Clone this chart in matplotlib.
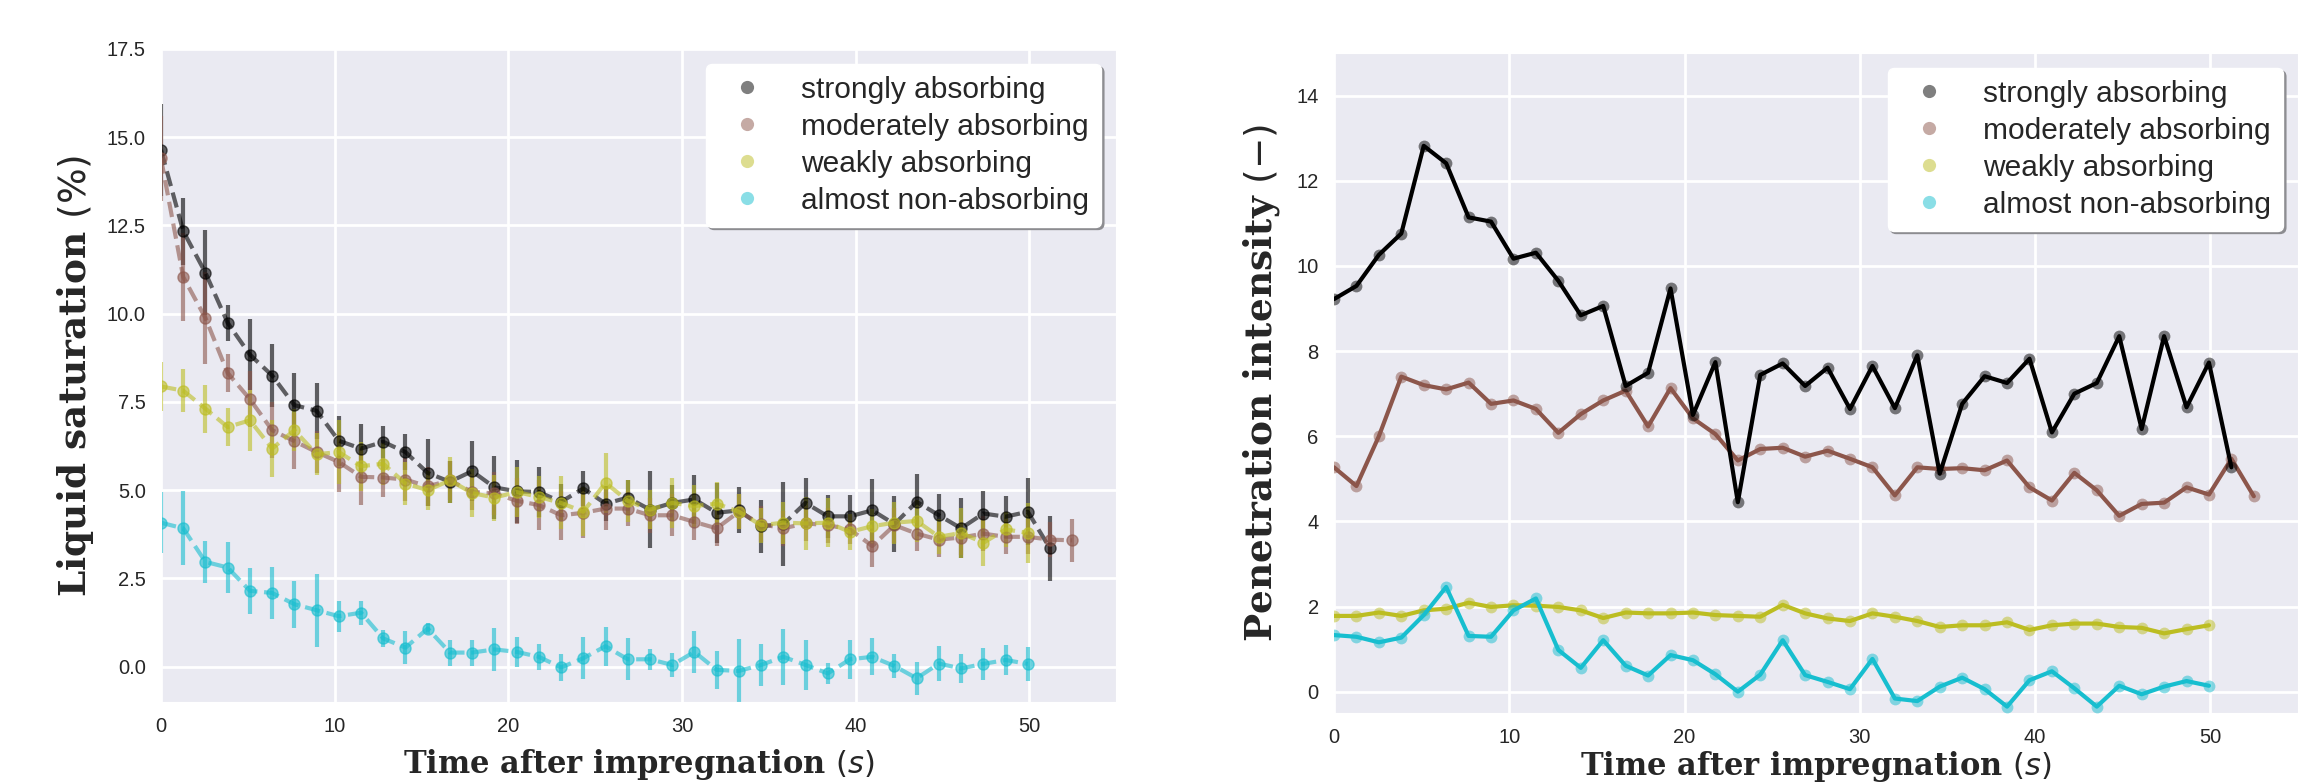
import numpy as np
import matplotlib
matplotlib.use("Agg")
import matplotlib.pyplot as plt
import seaborn as sns
from matplotlib.lines import Line2D
from matplotlib.colors import to_rgba

sns.set_style("darkgrid")
plt.rcParams['font.family'] = ['Liberation Sans', 'DejaVu Sans']

# ---------------- data ----------------
time = [0.0, 1.28, 2.56, 3.84, 5.12, 6.4, 7.68, 8.96, 10.24, 11.52, 12.8, 14.08,
        15.36, 16.64, 17.92, 19.2, 20.48, 21.76, 23.04, 24.32, 25.6, 26.88, 28.16,
        29.44, 30.72, 32.0, 33.28, 34.56, 35.84, 37.12, 38.4, 39.68, 40.96, 42.24,
        43.52, 44.8, 46.08, 47.36, 48.64, 49.92, 51.2, 52.48]

labels = ["strongly absorbing", "moderately absorbing", "weakly absorbing",
          "almost non-absorbing"]

# Liquid saturation (%) - mean and error
sat_strong = [14.64, 12.34, 11.16, 9.74, 8.84, 8.25, 7.41, 7.25, 6.40, 6.18, 6.37, 6.08,
              5.49, 5.24, 5.54, 5.08, 4.97, 4.95, 4.67, 5.05, 4.62, 4.79, 4.45, 4.64,
              4.74, 4.36, 4.43, 3.98, 4.04, 4.64, 4.26, 4.26, 4.43, 4.04, 4.67, 4.29,
              3.92, 4.34, 4.25, 4.39, 3.35]
sat_strong_err = [1.3, 0.95, 1.2, 0.5, 1.0, 0.9, 0.9, 0.8, 0.7, 0.7, 0.45, 0.5, 0.95,
                  0.6, 0.85, 0.9, 0.9, 0.7, 0.5, 0.5, 0.5, 0.5, 1.1, 0.5, 0.7, 0.85,
                  0.65, 0.75, 1.2, 0.7, 0.6, 0.6, 0.9, 0.8, 0.8, 0.6, 0.85, 0.65, 0.6,
                  0.95, 0.93]
sat_moder = [14.4, 11.04, 9.88, 8.32, 7.58, 6.70, 6.39, 6.08, 5.80, 5.38, 5.36, 5.30,
             5.11, 5.28, 4.95, 4.91, 4.70, 4.58, 4.29, 4.36, 4.48, 4.48, 4.29, 4.29,
             4.10, 3.92, 4.39, 4.04, 3.92, 4.06, 4.01, 3.89, 3.42, 4.01, 3.77, 3.60,
             3.66, 3.77, 3.68, 3.68, 3.60, 3.58]
sat_moder_err = [1.2, 1.25, 1.3, 0.55, 0.8, 0.8, 0.8, 0.6, 0.85, 0.8, 0.55, 0.6, 0.55,
                 0.55, 0.5, 0.6, 0.65, 0.7, 0.7, 0.7, 0.6, 0.5, 0.5, 0.6, 0.5, 0.5,
                 0.5, 0.5, 0.5, 0.5, 0.5, 0.4, 0.6, 0.5, 0.5, 0.5, 0.5, 0.5, 0.5, 0.5,
                 0.5, 0.6]
sat_weak = [7.94, 7.82, 7.31, 6.79, 6.98, 6.18, 6.70, 6.02, 6.08, 5.68, 5.75, 5.19,
            5.00, 5.28, 4.92, 4.79, 4.95, 4.81, 4.64, 4.39, 5.21, 4.70, 4.45, 4.64,
            4.55, 4.62, 4.39, 4.01, 4.08, 4.06, 4.08, 3.82, 3.98, 4.08, 4.13, 3.68,
            3.79, 3.51, 3.89, 3.79]
sat_weak_err = [0.7, 0.6, 0.68, 0.55, 0.87, 0.8, 0.6, 0.6, 0.9, 0.7, 0.6, 0.6, 0.55,
                0.65, 0.68, 0.65, 0.7, 0.6, 0.75, 0.7, 0.85, 0.6, 0.55, 0.7, 0.6, 0.6,
                0.5, 0.5, 0.6, 0.75, 0.7, 0.5, 0.5, 0.6, 0.6, 0.5, 0.7, 0.65, 0.5, 0.85]
sat_almost = [4.08, 3.92, 2.97, 2.81, 2.15, 2.09, 1.77, 1.60, 1.43, 1.53, 0.80, 0.54,
              1.08, 0.40, 0.40, 0.49, 0.42, 0.28, -0.02, 0.24, 0.58, 0.21, 0.21, 0.05,
              0.42, -0.09, -0.12, 0.05, 0.28, 0.05, -0.19, 0.21, 0.28, 0.02, -0.33,
              0.09, -0.05, 0.08, 0.19, 0.08]
sat_almost_err = [0.87, 1.05, 0.6, 0.73, 0.66, 0.73, 0.66, 1.03, 0.44, 0.34, 0.25,
                  0.47, 0.15, 0.37, 0.37, 0.6, 0.43, 0.37, 0.39, 0.6, 0.55, 0.6, 0.3,
                  0.33, 0.6, 0.53, 0.9, 0.6, 0.8, 0.7, 0.3, 0.55, 0.52, 0.33, 0.47,
                  0.5, 0.42, 0.45, 0.42, 0.48]

# Penetration intensity (-)
pen_strong = [9.22, 9.53, 10.26, 10.76, 12.82, 12.41, 11.14, 11.04, 10.17, 10.31, 9.65,
              8.84, 9.06, 7.18, 7.49, 9.47, 6.5, 7.74, 4.45, 7.44, 7.71, 7.18, 7.61,
              6.64, 7.65, 6.66, 7.90, 5.12, 6.76, 7.41, 7.25, 7.82, 6.09, 7.0, 7.25,
              8.35, 6.17, 8.35, 6.68, 7.73, 5.27]
pen_moder = [5.27, 4.83, 6.0, 7.40, 7.20, 7.10, 7.26, 6.76, 6.84, 6.64, 6.08, 6.52,
             6.84, 7.07, 6.23, 7.13, 6.42, 6.05, 5.43, 5.70, 5.73, 5.52, 5.66, 5.47,
             5.27, 4.61, 5.27, 5.23, 5.25, 5.20, 5.43, 4.80, 4.49, 5.14, 4.73, 4.13,
             4.41, 4.44, 4.80, 4.63, 5.47, 4.59]
pen_weak = [1.78, 1.78, 1.86, 1.78, 1.91, 1.95, 2.09, 1.99, 2.03, 2.02, 1.99, 1.91,
            1.73, 1.86, 1.84, 1.84, 1.86, 1.80, 1.78, 1.76, 2.04, 1.84, 1.72, 1.66,
            1.84, 1.76, 1.66, 1.52, 1.56, 1.56, 1.63, 1.45, 1.56, 1.60, 1.60, 1.52,
            1.50, 1.37, 1.47, 1.56]
pen_almost = [1.33, 1.29, 1.16, 1.27, 1.80, 2.46, 1.31, 1.29, 1.91, 2.19, 0.98, 0.56,
              1.21, 0.61, 0.38, 0.86, 0.74, 0.41, 0.0, 0.40, 1.21, 0.39, 0.23, 0.06,
              0.77, -0.16, -0.22, 0.12, 0.33, 0.06, -0.35, 0.27, 0.48, 0.08, -0.35,
              0.14, -0.06, 0.12, 0.25, 0.14]

colors = ["black", "tab:brown", "tab:olive", "tab:cyan"]

# ---------------- figure ----------------
fig = plt.figure(figsize=(23.02, 7.83), dpi=100)
W, H = 2302, 783
ax1 = fig.add_axes([161 / W, 1 - 702 / H, (1116 - 161) / W, (702 - 49) / H])
ax2 = fig.add_axes([1334 / W, 1 - 713 / H, (2298 - 1334) / W, (713 - 53) / H])

xlabel_font = dict(family='DejaVu Serif', weight='bold', size=22)
ylabel_font = dict(family='DejaVu Serif', weight='bold', size=27)
tick_size = 14.5
legend_size = 21.5

# Left: liquid saturation with error bars
sat_series = [(sat_strong, sat_strong_err), (sat_moder, sat_moder_err),
              (sat_weak, sat_weak_err), (sat_almost, sat_almost_err)]
for (vals, errs), c in zip(sat_series, colors):
    t = time[:len(vals)]
    ax1.errorbar(t, vals, yerr=errs, fmt='o--', color=c, alpha=0.6, lw=3,
                 elinewidth=3, markersize=8, capsize=0)

ax1.set_xlim(0, 55)
ax1.set_ylim(-1.0, 17.5)
ax1.set_xticks([0, 10, 20, 30, 40, 50])
ax1.set_yticks(np.arange(0, 17.6, 2.5))
ax1.yaxis.set_major_formatter(matplotlib.ticker.FormatStrFormatter('%.1f'))
ax1.set_xlabel(r"Time after impregnation $(s)$", fontdict=xlabel_font, labelpad=8)
ax1.set_ylabel(r"Liquid saturation $(\%)$", fontdict=ylabel_font, labelpad=8)

# Right: penetration intensity
pen_series = [pen_strong, pen_moder, pen_weak, pen_almost]
zorders = [4, 3, 3, 4]
for vals, c, z in zip(pen_series, colors, zorders):
    t = time[:len(vals)]
    ax2.plot(t, vals, '-', color=c, lw=3, zorder=z)
    ax2.plot(t, vals, 'o', color=c, alpha=0.5, markersize=8.5, zorder=z, mec='none')

ax2.set_xlim(0, 55)
ax2.set_ylim(-0.5, 15)
ax2.set_xticks([0, 10, 20, 30, 40, 50])
ax2.set_yticks([0, 2, 4, 6, 8, 10, 12, 14])
ax2.set_xlabel(r"Time after impregnation $(s)$", fontdict=xlabel_font, labelpad=1.5)
ax2.set_ylabel(r"Penetration intensity $(-)$", fontdict=ylabel_font, labelpad=10)

for ax in (ax1, ax2):
    ax.tick_params(axis='both', labelsize=tick_size, length=0, pad=11,
                   labelcolor='#262626')
    ax.grid(True, color='white', lw=2)
    handles = [Line2D([], [], ls='none', marker='o', markersize=9.5,
                      markerfacecolor=to_rgba(c, 0.5), markeredgecolor='none')
               for c in colors]
    leg = ax.legend(handles, labels, loc='upper right', fontsize=legend_size,
                    frameon=True, shadow={'color': '#8c8c90', 'alpha': 1.0},
                    facecolor='white', edgecolor='white',
                    framealpha=1, labelspacing=0.3, borderpad=0.4,
                    handletextpad=0.8, handlelength=2.0, borderaxespad=0.5)
    for txt in leg.get_texts():
        txt.set_color('#262626')

fig.savefig("out.png", dpi=100)
